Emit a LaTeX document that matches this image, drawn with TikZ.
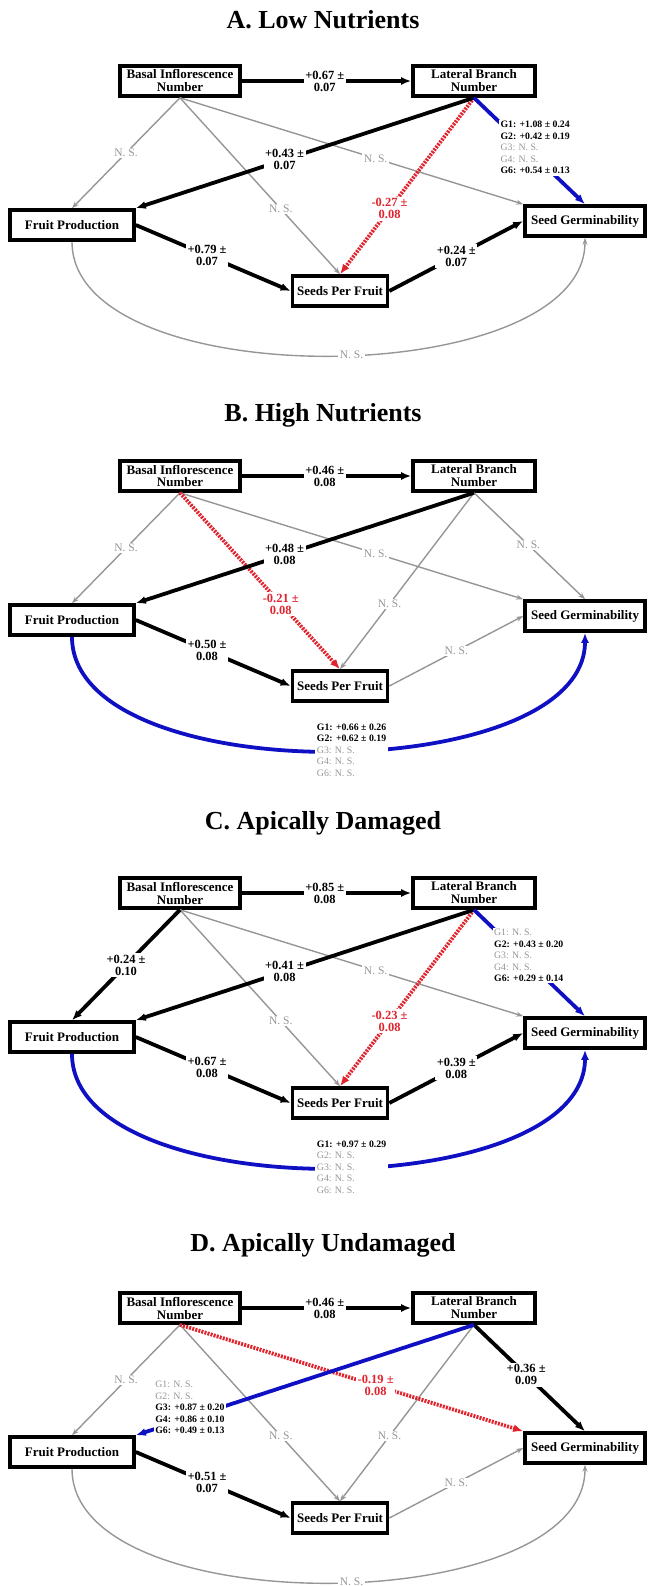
\documentclass[tikz,border=0pt]{standalone}
\usepackage{fontspec}
\setmainfont{Liberation Serif}
\usetikzlibrary{arrows.meta}

\definecolor{nsgray}{RGB}{150,150,150}
\definecolor{grpblue}{RGB}{15,15,195}
\definecolor{negred}{RGB}{225,35,45}

\tikzset{
  var/.style={draw, line width=3.6pt, fill=white, align=center, inner sep=1pt,
    minimum height=30pt, font=\fontsize{13}{13}\selectfont\bfseries},
  sig/.style={line width=3.8pt, -{Latex[length=10pt,width=8pt]}},
  ns/.style={nsgray, line width=1.4pt, -{Stealth[length=7pt,width=5pt]}},
  neg/.style={negred, line width=3.8pt, dash pattern=on 2pt off 1.2pt, -{Latex[length=10pt,width=8pt]}},
  grp/.style={grpblue, line width=3.8pt, -{Latex[length=10pt,width=8pt]}},
  coef/.style={fill=white, inner sep=1.5pt, align=center, text=black,
    font=\fontsize{12.5}{12}\selectfont\bfseries},
  negcoef/.style={coef, text=negred},
  nslab/.style={fill=white, inner sep=1.5pt, text=nsgray, font=\fontsize{11.5}{12}\selectfont},
  glist/.style={fill=white, inner sep=1.5pt, align=left, text=black,
    font=\fontsize{9.8}{11.5}\selectfont\bfseries},
  paneltitle/.style={font=\fontsize{26}{26}\selectfont\bfseries}
}

\begin{document}
\begin{tikzpicture}[x=1pt, y=1pt]
  \useasboundingbox (0,0) rectangle (648,-1586);

  % A
  \begin{scope}
    \node[paneltitle] (tA) at (323,-20) {A. Low Nutrients};
    \node[var, minimum width=120pt] (basA) at (180,-81) {Basal Inflorescence\\Number};
    \node[var, minimum width=122pt] (latA) at (474,-81) {Lateral Branch\\Number};
    \node[var, minimum width=124pt] (fruA) at (72,-225) {Fruit Production};
    \node[var, minimum width=120pt] (germA) at (585,-221) {Seed Germinability};
    \node[var, minimum width=95pt] (spfA) at (340,-291) {Seeds Per Fruit};

    \draw[ns] (basA.south) -- node[nslab, pos=0.5] {N. S.} (fruA.north);
    \draw[ns] (basA.south) -- node[nslab, pos=0.63] {N. S.} (spfA.north);
    \draw[ns] (basA.south) -- node[nslab, pos=0.57] {N. S.} (germA.north west);
    \draw[ns] (fruA.south) to[out=-90, in=-90, looseness=0.77] node[nslab, pos=0.53] {N. S.} (germA.south);
    \draw[neg] (latA.south) -- node[negcoef, pos=0.63] {-0.27 ±\\0.08} (spfA.north);
    \draw[sig] (basA) -- node[coef, pos=0.49] {+0.67 ±\\0.07} (latA);
    \draw[sig] (latA.south) -- node[coef, pos=0.56] {+0.43 ±\\0.07} (fruA.north east);
    \draw[sig] (fruA.east) -- node[coef, pos=0.46] {+0.79 ±\\0.07} (spfA.west);
    \draw[sig] (spfA.east) -- node[coef, pos=0.5] {+0.24 ±\\0.07} (germA.west);
    \draw[grp] (latA.south) -- node[glist, pos=0.47, xshift=9pt]
      {G1: +1.08 ± 0.24\\G2: +0.42 ± 0.19\\\textcolor{nsgray}{\mdseries G3: N. S.}\\\textcolor{nsgray}{\mdseries G4: N. S.}\\G6: +0.54 ± 0.13} (germA.north);
  \end{scope}

  % B
  \begin{scope}[yshift=-395pt]
    \node[paneltitle] (tB) at (323,-20) {B. High Nutrients};
    \node[var, minimum width=120pt] (basB) at (180,-81) {Basal Inflorescence\\Number};
    \node[var, minimum width=122pt] (latB) at (474,-81) {Lateral Branch\\Number};
    \node[var, minimum width=124pt] (fruB) at (72,-225) {Fruit Production};
    \node[var, minimum width=120pt] (germB) at (585,-221) {Seed Germinability};
    \node[var, minimum width=95pt] (spfB) at (340,-291) {Seeds Per Fruit};

    \draw[ns] (basB.south) -- node[nslab, pos=0.5] {N. S.} (fruB.north);
    \draw[ns] (basB.south) -- node[nslab, pos=0.57] {N. S.} (germB.north west);
    \draw[ns] (latB.south) -- node[nslab, pos=0.63] {N. S.} (spfB.north);
    \draw[ns] (latB.south) -- node[nslab, pos=0.49] {N. S.} (germB.north);
    \draw[ns] (spfB.east) -- node[nslab, pos=0.5] {N. S.} (germB.west);
    \draw[neg] (basB.south) -- node[negcoef, pos=0.63] {-0.21 ±\\0.08} (spfB.north);
    \draw[sig] (basB) -- node[coef, pos=0.49] {+0.46 ±\\0.08} (latB);
    \draw[sig] (latB.south) -- node[coef, pos=0.56] {+0.48 ±\\0.08} (fruB.north east);
    \draw[sig] (fruB.east) -- node[coef, pos=0.46] {+0.50 ±\\0.08} (spfB.west);
    \draw[grp] (fruB.south) to[out=-90, in=-90, looseness=0.77] node[glist, pos=0.53]
      {G1: +0.66 ± 0.26\\G2: +0.62 ± 0.19\\\textcolor{nsgray}{\mdseries G3: N. S.}\\\textcolor{nsgray}{\mdseries G4: N. S.}\\\textcolor{nsgray}{\mdseries G6: N. S.}} (germB.south);
  \end{scope}

  % C
  \begin{scope}[yshift=-812pt]
    \node[paneltitle] (tC) at (323,-11) {C. Apically Damaged};
    \node[var, minimum width=120pt] (basC) at (180,-81) {Basal Inflorescence\\Number};
    \node[var, minimum width=122pt] (latC) at (474,-81) {Lateral Branch\\Number};
    \node[var, minimum width=124pt] (fruC) at (72,-225) {Fruit Production};
    \node[var, minimum width=120pt] (germC) at (585,-221) {Seed Germinability};
    \node[var, minimum width=95pt] (spfC) at (340,-291) {Seeds Per Fruit};

    \draw[ns] (basC.south) -- node[nslab, pos=0.63] {N. S.} (spfC.north);
    \draw[ns] (basC.south) -- node[nslab, pos=0.57] {N. S.} (germC.north west);
    \draw[neg] (latC.south) -- node[negcoef, pos=0.63] {-0.23 ±\\0.08} (spfC.north);
    \draw[sig] (basC) -- node[coef, pos=0.49] {+0.85 ±\\0.08} (latC);
    \draw[sig] (basC.south) -- node[coef, pos=0.5] {+0.24 ±\\0.10} (fruC.north);
    \draw[sig] (latC.south) -- node[coef, pos=0.56] {+0.41 ±\\0.08} (fruC.north east);
    \draw[sig] (fruC.east) -- node[coef, pos=0.46] {+0.67 ±\\0.08} (spfC.west);
    \draw[sig] (spfC.east) -- node[coef, pos=0.5] {+0.39 ±\\0.08} (germC.west);
    \draw[grp] (latC.south) -- node[glist, pos=0.43, xshift=7pt]
      {\textcolor{nsgray}{\mdseries G1: N. S.}\\G2: +0.43 ± 0.20\\\textcolor{nsgray}{\mdseries G3: N. S.}\\\textcolor{nsgray}{\mdseries G4: N. S.}\\G6: +0.29 ± 0.14} (germC.north);
    \draw[grp] (fruC.south) to[out=-90, in=-90, looseness=0.77] node[glist, pos=0.53]
      {G1: +0.97 ± 0.29\\\textcolor{nsgray}{\mdseries G2: N. S.}\\\textcolor{nsgray}{\mdseries G3: N. S.}\\\textcolor{nsgray}{\mdseries G4: N. S.}\\\textcolor{nsgray}{\mdseries G6: N. S.}} (germC.south);
  \end{scope}

  % D
  \begin{scope}[yshift=-1227pt]
    \node[paneltitle] (tD) at (323,-18) {D. Apically Undamaged};
    \node[var, minimum width=120pt] (basD) at (180,-81) {Basal Inflorescence\\Number};
    \node[var, minimum width=122pt] (latD) at (474,-81) {Lateral Branch\\Number};
    \node[var, minimum width=124pt] (fruD) at (72,-225) {Fruit Production};
    \node[var, minimum width=120pt] (germD) at (585,-221) {Seed Germinability};
    \node[var, minimum width=95pt] (spfD) at (340,-291) {Seeds Per Fruit};

    \draw[ns] (basD.south) -- node[nslab, pos=0.5] {N. S.} (fruD.north);
    \draw[ns] (basD.south) -- node[nslab, pos=0.63] {N. S.} (spfD.north);
    \draw[ns] (latD.south) -- node[nslab, pos=0.63] {N. S.} (spfD.north);
    \draw[ns] (spfD.east) -- node[nslab, pos=0.5] {N. S.} (germD.west);
    \draw[ns] (fruD.south) to[out=-90, in=-90, looseness=0.77] node[nslab, pos=0.53] {N. S.} (germD.south);
    \draw[neg] (basD.south) -- node[negcoef, pos=0.57] {-0.19 ±\\0.08} (germD.north west);
    \draw[sig] (basD) -- node[coef, pos=0.49] {+0.46 ±\\0.08} (latD);
    \draw[sig] (latD.south) -- node[coef, pos=0.47] {+0.36 ±\\0.09} (germD.north);
    \draw[sig] (fruD.east) -- node[coef, pos=0.46] {+0.51 ±\\0.07} (spfD.west);
    \draw[grp] (latD.south) -- node[glist, pos=0.84, yshift=10pt]
      {\textcolor{nsgray}{\mdseries G1: N. S.}\\\textcolor{nsgray}{\mdseries G2: N. S.}\\G3: +0.87 ± 0.20\\G4: +0.86 ± 0.10\\G6: +0.49 ± 0.13} (fruD.north east);
  \end{scope}
\end{tikzpicture}
\end{document}
